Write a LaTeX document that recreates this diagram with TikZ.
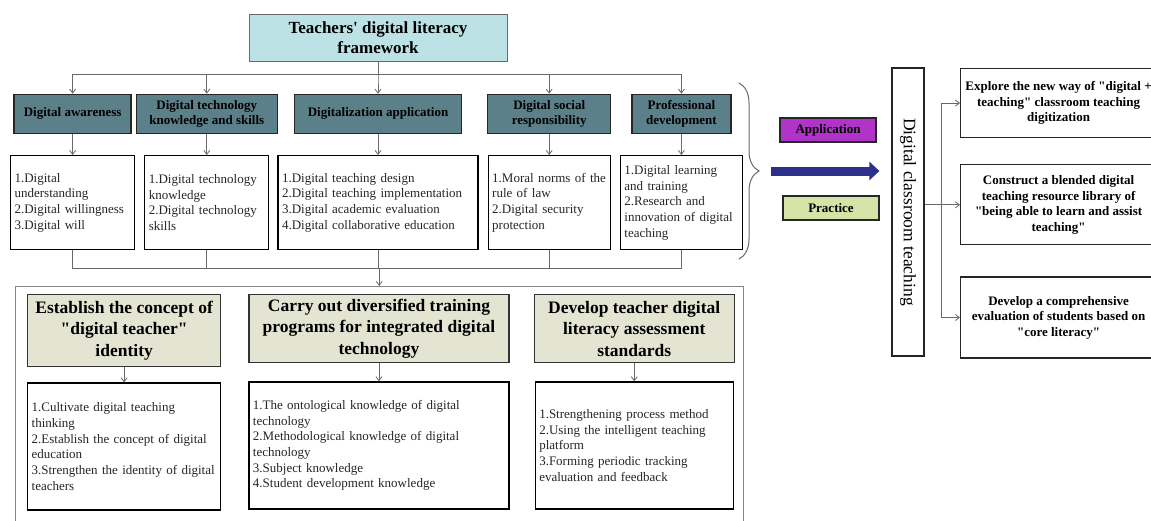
\documentclass[tikz,border=0pt]{standalone}
\usepackage{fontspec}
\setmainfont{Liberation Serif}[Ligatures=TeXOff]
\usepackage{graphicx}
\usetikzlibrary{arrows.meta, positioning, calc, decorations.pathreplacing}

\definecolor{titlecyan}{RGB}{189,226,230}
\definecolor{catteal}{RGB}{92,128,138}
\definecolor{headbeige}{RGB}{228,228,210}
\definecolor{tagpurple}{RGB}{176,52,199}
\definecolor{taggreen}{RGB}{214,227,166}
\definecolor{arrownavy}{RGB}{44,47,140}
\definecolor{linegray}{RGB}{105,105,105}

\begin{document}
\begin{tikzpicture}[x=1pt, y=-1pt,
    titlebox/.style={rectangle, draw=linegray, fill=titlecyan, align=center,
        minimum width=258pt, minimum height=47pt,
        font=\fontsize{17}{20}\selectfont\bfseries},
    catbox/.style={rectangle, draw=black!85, line width=1.3pt, fill=catteal,
        align=center, minimum height=39pt, inner sep=2pt,
        font=\fontsize{13}{15.7}\selectfont\bfseries},
    listbox/.style={rectangle, draw=black, line width=1.2pt, fill=white,
        align=left, inner xsep=4pt, text=black!85,
        font=\fontsize{13}{15.7}\selectfont},
    headbox/.style={rectangle, draw=black!80, line width=1.3pt, fill=headbeige,
        align=center, minimum height=68pt,
        font=\fontsize{17.5}{21.5}\selectfont\bfseries},
    goalbox/.style={rectangle, draw=black!85, line width=1.2pt, align=center,
        minimum width=196pt, inner xsep=0pt,
        font=\fontsize{13}{15.5}\selectfont\bfseries},
    tagbox/.style={rectangle, draw=black!85, line width=1.2pt,
        minimum width=96pt, minimum height=24pt,
        font=\fontsize{13}{15}\selectfont\bfseries},
    stagebox/.style={rectangle, draw=black!85, line width=1.2pt, inner sep=0pt,
        minimum width=32pt, minimum height=288pt,
        font=\fontsize{17.5}{20}\selectfont},
    link/.style={draw=linegray, line width=0.8pt},
    arrow/.style={link, -{Straight Barb[length=4pt, width=6pt]}},
    bigarrow/.style={draw=arrownavy, line width=9pt,
        -{Triangle[length=10pt, width=18pt]},
        shorten <=12pt, shorten >=12pt}
]
\path[fill=white, use as bounding box] (0,0) rectangle (1151,520);

% list row of the framework
\node[listbox, text width=116pt, minimum height=94pt, anchor=north west]
    (awareL) at (10,155)
    {1.Digital\\understanding\\2.Digital willingness\\3.Digital will};
\node[listbox, text width=116pt, minimum height=94pt, right=9pt of awareL]
    (techL) {1.Digital technology\\knowledge\\2.Digital technology\\skills};
\node[listbox, text width=192pt, minimum height=94pt, right=8pt of techL]
    (appL) {1.Digital teaching design\\2.Digital teaching implementation\\
            3.Digital academic evaluation\\4.Digital collaborative education};
\node[listbox, text width=114pt, minimum height=94pt, right=9pt of appL]
    (socL) {1.Moral norms of the\\rule of law\\2.Digital security\\protection};
\node[listbox, text width=114pt, minimum height=94pt, right=9pt of socL]
    (profL) {1.Digital learning\\and training\\2.Research and\\
             innovation of digital\\teaching};

% five dimensions above the lists
\node[catbox, minimum width=117pt, above=21pt of awareL] (aware)
    {Digital awareness};
\node[catbox, minimum width=141pt, above=21pt of techL] (tech)
    {Digital technology\\knowledge and skills};
\node[catbox, minimum width=167pt, above=21pt of appL] (app)
    {Digitalization application};
\node[catbox, minimum width=123pt, above=21pt of socL] (soc)
    {Digital social\\responsibility};
\node[catbox, minimum width=99pt, above=21pt of profL] (prof)
    {Professional\\development};
\node[titlebox, above=32pt of app] (title)
    {Teachers' digital literacy\\framework};

% tree arrows
\foreach \c in {aware,tech,app,soc,prof}
    \draw[arrow] (title.south) -- ++(0,13) -| (\c.north);
\foreach \c in {aware,tech,app,soc,prof}
    \draw[arrow] (\c.south) -- (\c.south |- \c L.north);

% lower frame with the three measures
\node[draw=linegray!80, minimum width=728pt, minimum height=250pt,
      anchor=north west] (frame) at (15,286) {};
\coordinate (merge) at ($(frame.north)+(0pt,18pt)$);
\foreach \c in {awareL,techL,appL,socL,profL}
    \draw[link] (\c.south) |- (merge);
\draw[arrow] (merge) -- (frame.north);

\node[headbox, minimum width=193pt, minimum height=72pt, anchor=north west]
    (idH) at (27,294) {Establish the concept of\\"digital teacher"\\identity};
\node[headbox, minimum width=260pt, anchor=north west]
    (trainH) at ([xshift=27pt]idH.north east)
    {Carry out diversified training\\programs for integrated digital\\technology};
\node[headbox, minimum width=200pt, anchor=north west]
    (assessH) at ([xshift=24pt]trainH.north east)
    {Develop teacher digital\\literacy assessment\\standards};

\node[listbox, text width=185pt, minimum height=127pt, below=15pt of idH]
    (idL) {1.Cultivate digital teaching\\thinking\\
           2.Establish the concept of digital\\education\\
           3.Strengthen the identity of digital\\teachers};
\node[listbox, text width=252pt, minimum height=127pt, below=18pt of trainH]
    (trainL) {1.The ontological knowledge of digital\\technology\\
              2.Methodological knowledge of digital\\technology\\
              3.Subject knowledge\\4.Student development knowledge};
\node[listbox, text width=190pt, minimum height=127pt, below=18pt of assessH]
    (assessL) {1.Strengthening process method\\
               2.Using the intelligent teaching\\platform\\
               3.Forming periodic tracking\\evaluation and feedback};
\foreach \h/\l in {idH/idL, trainH/trainL, assessH/assessL}
    \draw[arrow] (\h) -- (\l);

% brace and the step into classroom teaching
\draw[link, line width=1pt, decorate, decoration={brace, amplitude=20pt}]
    (739,83) -- (739,259);
\coordinate (bracetip) at (759,171);
\node[tagbox, fill=tagpurple] (appTag) at (828,130) {Application};
\node[tagbox, fill=taggreen] (pracTag) at (831,208) {Practice};
\node[stagebox] (dct) at (908,212) {\rotatebox{-90}{Digital classroom teaching}};
\draw[bigarrow] (bracetip) -- (dct.west |- bracetip);

% classroom goals
\node[goalbox, minimum height=69pt, anchor=north west] (goalA) at (960,68)
    {Explore the new way of "digital +\\teaching" classroom teaching\\digitization};
\node[goalbox, minimum height=80pt, below=26pt of goalA] (goalB)
    {Construct a blended digital\\teaching resource library of\\
     "being able to learn and assist\\teaching"};
\node[goalbox, minimum height=81pt, below=31pt of goalB] (goalC)
    {Develop a comprehensive\\evaluation of students based on\\"core literacy"};
\coordinate (split) at ($(dct.east |- goalB.west)+(17pt,0pt)$);
\draw[arrow] (dct.east |- goalB.west) -- (goalB.west);
\draw[arrow] (split) |- (goalA.west);
\draw[arrow] (split) |- (goalC.west);
\end{tikzpicture}
\end{document}
